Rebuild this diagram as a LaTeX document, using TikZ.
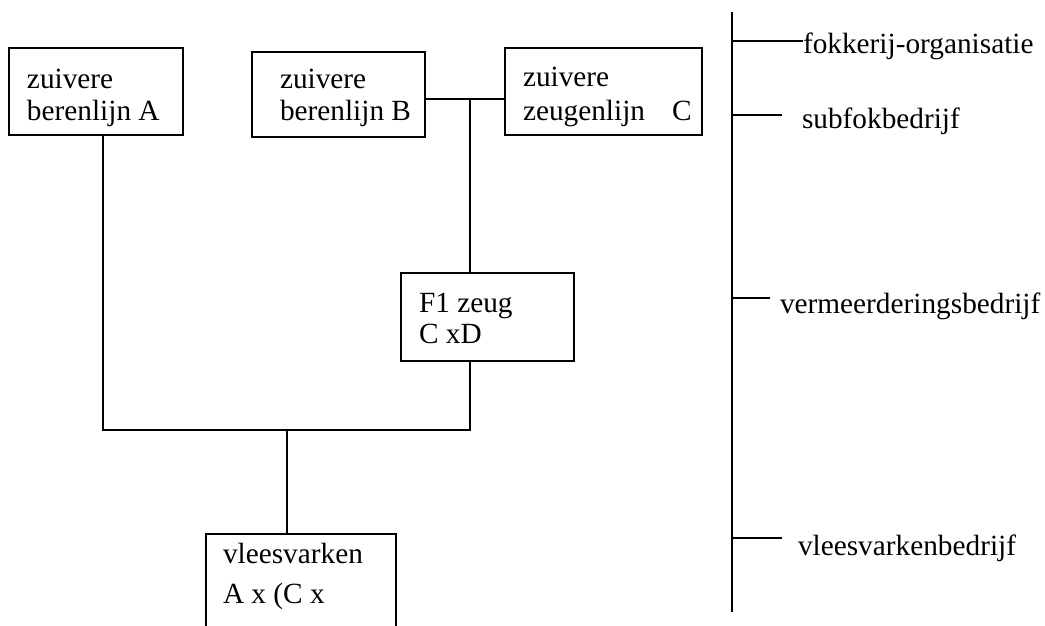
\documentclass[tikz,border=0pt]{standalone}
\usepackage{fontspec}
\setmainfont{Liberation Serif}
\begin{document}
\begin{tikzpicture}[x=1pt,y=-1pt,
  box/.style={draw,line width=1.3pt,inner sep=0pt,outer sep=0pt},
  txt/.style={anchor=base west,inner sep=0pt,outer sep=0pt,font=\fontsize{29.3}{31.5}\selectfont},
  conn/.style={line width=1.3pt},
  axis/.style={line width=1.8pt}]
\useasboundingbox (0,0) rectangle (1045,625);
% boxes
\node[box,minimum width=174pt,minimum height=87pt] (A) at (96,91.5) {};
\node[box,minimum width=173pt,minimum height=85pt] (B) at (338.5,94.5) {};
\node[box,minimum width=197pt,minimum height=87pt] (C) at (603.5,91.5) {};
\node[box,minimum width=173pt,minimum height=88pt] (F) at (487.5,317) {};
\node[box,minimum width=190pt,minimum height=112pt] (V) at (301,590) {};
% box texts
\node[txt] (a1) at (27,88) {zuivere};
\node[txt] (a2) at (27,120) {berenlijn A};
\node[txt] (b1) at (280,88) {zuivere};
\node[txt] (b2) at (280,120) {berenlijn B};
\node[txt] (c1) at (523,86) {zuivere};
\node[txt] (c2) at (523,120) {zeugenlijn};
\node[txt] (c3) at (672,120) {C};
\node[txt] (f1) at (419,312) {F1 zeug};
\node[txt] (f2) at (419,343) {C xD};
\node[txt] (v1) at (223,563) {vleesvarken};
\node[txt] (v2) at (223,603) {A x (C x};
% connectors
\coordinate (bc) at (470,99);
\coordinate (aL) at (103,430);
\coordinate (fR) at (470,430);
\coordinate (j) at (287,430);
\draw[conn] (B.east |- bc) -- (C.west |- bc);
\draw[conn] (bc) -- (bc |- F.north);
\draw[conn] (A.south -| aL) -- (aL) -- (fR) -- (F.south -| fR);
\draw[conn] (j) -- (V.north -| j);
% right axis
\coordinate (top) at (732,12);
\coordinate (bot) at (732,612);
\draw[axis] (top) -- (bot);
\node[txt] (L1) at (803,53) {fokkerij-organisatie};
\node[txt] (L2) at (802,128) {subfokbedrijf};
\node[txt] (L3) at (780,313) {vermeerderingsbedrijf};
\node[txt] (L4) at (798,555) {vleesvarkenbedrijf};
\coordinate (t1) at (732,41);
\coordinate (t2) at (732,115);
\coordinate (t3) at (732,298);
\coordinate (t4) at (732,538);
\coordinate (e2) at (782,115);
\coordinate (e3) at (770,298);
\coordinate (e4) at (782,538);
\draw[conn] (t1) -- (L1.west |- t1);
\draw[conn] (t2) -- (e2);
\draw[conn] (t3) -- (e3);
\draw[conn] (t4) -- (e4);
\end{tikzpicture}
\end{document}
